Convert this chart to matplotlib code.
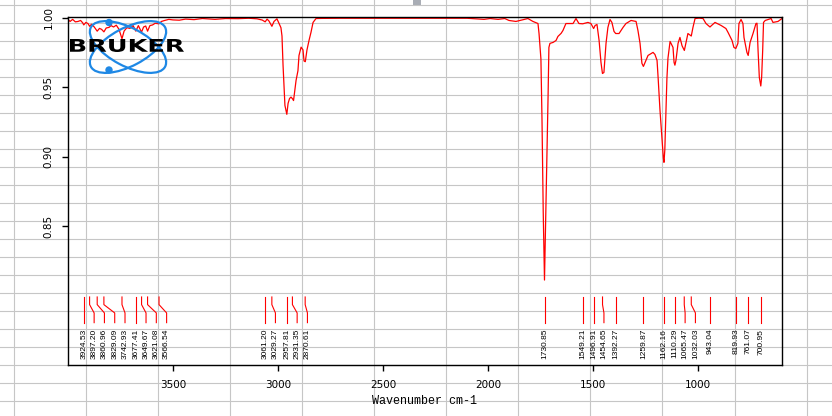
import matplotlib
matplotlib.use("Agg")
import matplotlib.pyplot as plt
from matplotlib.patches import Ellipse, PathPatch, Circle, Rectangle
from matplotlib.textpath import TextPath
from matplotlib.font_manager import FontProperties
from matplotlib.transforms import Affine2D

# ---------------- data ----------------
wavenumber = [
    4000, 3990, 3978, 3965, 3952, 3940, 3930, 3925, 3915, 3905, 3897, 3888, 3875, 3861,
    3850, 3840, 3829, 3818, 3805, 3795, 3783, 3770, 3757, 3743, 3733, 3720, 3705, 3690,
    3677, 3665, 3650, 3640, 3630, 3621, 3610, 3597, 3585, 3567, 3555, 3540, 3520, 3500,
    3470, 3440, 3400, 3360, 3300, 3250, 3190, 3140, 3100, 3075, 3061, 3052, 3043, 3029,
    3019, 3005, 2995, 2986, 2981, 2976, 2971, 2967, 2958, 2952, 2945, 2938, 2931, 2926,
    2920, 2914, 2905, 2900, 2890, 2881, 2876, 2870, 2862, 2852, 2843, 2833, 2819, 2790,
    2700, 2600, 2500, 2400, 2300, 2200, 2100, 2019, 1990, 1952, 1920, 1900, 1867, 1840,
    1810, 1786, 1762, 1757, 1748, 1743, 1737, 1731, 1726, 1721, 1717, 1714, 1710, 1705,
    1690, 1676, 1667, 1652, 1643, 1629, 1614, 1595, 1581, 1567, 1549, 1524, 1510, 1497,
    1490, 1481, 1471, 1462, 1455, 1448, 1438, 1429, 1419, 1410, 1400, 1392, 1376, 1357,
    1343, 1319, 1295, 1286, 1276, 1267, 1260, 1252, 1238, 1214, 1205, 1195, 1190, 1181,
    1171, 1165, 1162, 1158, 1152, 1148, 1143, 1133, 1119, 1114, 1110, 1105, 1095, 1086,
    1076, 1065, 1057, 1048, 1032, 1024, 1014, 995, 976, 962, 943, 936, 919, 890,
    867, 857, 838, 829, 820, 810, 805, 795, 786, 781, 767, 761, 752, 738,
    724, 719, 714, 708, 701, 697, 692, 688, 680, 652, 643, 619, 600,
]
transmittance = [
    0.9990, 0.9975, 0.9990, 0.9972, 0.9975, 0.9982, 0.9965, 0.9950, 0.9968, 0.9960, 0.9940, 0.9955, 0.9935, 0.9905,
    0.9925, 0.9918, 0.9900, 0.9928, 0.9932, 0.9945, 0.9935, 0.9948, 0.9918, 0.9850, 0.9905, 0.9930, 0.9925, 0.9945,
    0.9905, 0.9945, 0.9898, 0.9935, 0.9942, 0.9905, 0.9945, 0.9950, 0.9962, 0.9958, 0.9975, 0.9982, 0.9990, 0.9986,
    0.9984, 0.9992, 0.9988, 0.9996, 0.9990, 0.9996, 0.9995, 0.9998, 0.9994, 0.9985, 0.9972, 0.9992, 0.9978, 0.9940,
    0.9975, 0.9994, 0.9960, 0.9930, 0.9870, 0.9660, 0.9490, 0.9370, 0.9306, 0.9385, 0.9420, 0.9430, 0.9418, 0.9405,
    0.9480, 0.9550, 0.9620, 0.9730, 0.9790, 0.9770, 0.9690, 0.9685, 0.9770, 0.9840, 0.9896, 0.9968, 0.9996, 0.9997,
    0.9998, 0.9998, 0.9998, 0.9998, 0.9998, 0.9998, 0.9998, 0.9990, 0.9996, 0.9990, 0.9996, 0.9982, 0.9975, 0.9985,
    0.9996, 0.9975, 0.9960, 0.9888, 0.9705, 0.9280, 0.8600, 0.8112, 0.8500, 0.8900, 0.9200, 0.9430, 0.9788, 0.9817,
    0.9824, 0.9838, 0.9867, 0.9889, 0.9910, 0.9960, 0.9960, 0.9960, 0.9996, 0.9960, 0.9958, 0.9968, 0.9960, 0.9924,
    0.9946, 0.9953, 0.9838, 0.9680, 0.9600, 0.9607, 0.9817, 0.9932, 0.9989, 0.9968, 0.9903, 0.9888, 0.9888, 0.9932,
    0.9960, 0.9982, 0.9975, 0.9910, 0.9817, 0.9673, 0.9651, 0.9680, 0.9730, 0.9752, 0.9737, 0.9694, 0.9572, 0.9335,
    0.9125, 0.8990, 0.8960, 0.9050, 0.9350, 0.9565, 0.9710, 0.9831, 0.9788, 0.9680, 0.9660, 0.9694, 0.9817, 0.9860,
    0.9800, 0.9766, 0.9824, 0.9888, 0.9870, 0.9932, 0.9996, 0.9999, 0.9996, 0.9960, 0.9935, 0.9945, 0.9968, 0.9946,
    0.9924, 0.9896, 0.9838, 0.9788, 0.9780, 0.9817, 0.9960, 0.9989, 0.9960, 0.9860, 0.9752, 0.9730, 0.9824, 0.9888,
    0.9960, 0.9962, 0.9766, 0.9572, 0.9510, 0.9572, 0.9766, 0.9968, 0.9982, 0.9996, 0.9968, 0.9975, 0.9996,
]
peak_positions = [
    3924.53, 3897.20, 3860.96, 3829.09, 3742.93, 3677.41, 3649.67, 3621.08, 3566.54,
    3061.20, 3029.27, 2957.81, 2931.35, 2870.61,
    1730.85, 1549.21, 1496.91, 1454.65, 1392.27, 1259.87, 1162.16, 1110.29, 1065.47,
    1032.03, 943.04, 819.93, 761.07, 700.95,
]
x_ticks = [3500, 3000, 2500, 2000, 1500, 1000]
y_ticks = [1.00, 0.95, 0.90, 0.85]
x_label = "Wavenumber cm-1"
logo_text = "BRUKER"

# ---------------- figure ----------------
W, H = 832, 416
fig = plt.figure(figsize=(W / 100, H / 100), dpi=100)
fig.patch.set_facecolor("white")

# spreadsheet-like background grid
bg = fig.add_axes([0, 0, 1, 1], zorder=0)
bg.set_xlim(0, W)
bg.set_ylim(H, 0)
bg.axis("off")
for i in range(12):
    bg.axvline(14 + 72.05 * i, color="#c6c6c6", lw=0.8)
for j in range(23):
    bg.axhline(5 + 18 * j, color="#c6c6c6", lw=0.8)
bg.add_patch(Rectangle((413, 0), 8, 4.5, color="#a9adb5", lw=0))

# main spectrum axes
ax = fig.add_axes([68 / W, 1 - 365 / H, (782 - 68) / W, (365 - 17) / H], zorder=1)
ax.patch.set_alpha(0)
ax.plot(wavenumber, transmittance, color="#ff0000", lw=0.9)
ax.set_xlim(4000, 600)
ax.set_ylim(0.75, 1.0007)

for s in ax.spines.values():
    s.set_linewidth(1.0)
    s.set_color("black")
ax.set_xticks(x_ticks)
ax.set_xticklabels([str(t) for t in x_ticks], fontsize=7.5, family="DejaVu Sans")
ax.set_yticks(y_ticks)
ax.set_yticklabels([f"{t:.2f}" for t in y_ticks], fontsize=7.5, family="DejaVu Sans",
                   rotation=90, va="center")
ax.tick_params(axis="x", direction="out", length=4.5, width=1, pad=6, top=False)
ax.tick_params(axis="y", direction="out", length=4.5, width=1, pad=6, right=False)
ax.set_xlabel(x_label, fontsize=8.5, family="Liberation Mono", labelpad=4)

# peak markers with labels (pushed apart when crowded)
min_gap = 49.0
y_top, y_k1, y_k2, y_bot, y_txt = 0.7990, 0.7935, 0.7875, 0.7805, 0.7762
prev = None
for p in peak_positions:
    q = p if prev is None else min(p, prev - min_gap)
    prev = q
    ax.plot([p, p, q, q], [y_top, y_k1, y_k2, y_bot], color="#ff0000", lw=0.8)
    ax.text(q, y_txt, f"{p:.2f}", rotation=90, ha="center", va="top",
            fontsize=6, family="Liberation Sans", color="black")

# logo overlay
ov = fig.add_axes([0, 0, 1, 1], zorder=2)
ov.set_xlim(0, W)
ov.set_ylim(H, 0)
ov.axis("off")
blue = "#1e88e5"
for ang in (28, -28):
    ov.add_patch(Ellipse((128, 47), 84, 38, angle=ang, fill=False, ec=blue, lw=1.6))
ov.add_patch(Circle((109, 22.5), 3.0, color=blue))
ov.add_patch(Circle((109, 70.0), 3.0, color=blue))
tp = TextPath((0, 0), logo_text, size=10,
              prop=FontProperties(family="DejaVu Sans", weight="bold"))
ext = tp.get_extents()
sx = (184 - 70) / ext.width
sy = (52 - 39) / ext.height
tr = Affine2D().translate(-ext.x0, -ext.y0).scale(sx, -sy).translate(70, 52) + ov.transData
ov.add_patch(PathPatch(tp, transform=tr, fc="black", ec="none"))

fig.savefig("out.png", dpi=100)
